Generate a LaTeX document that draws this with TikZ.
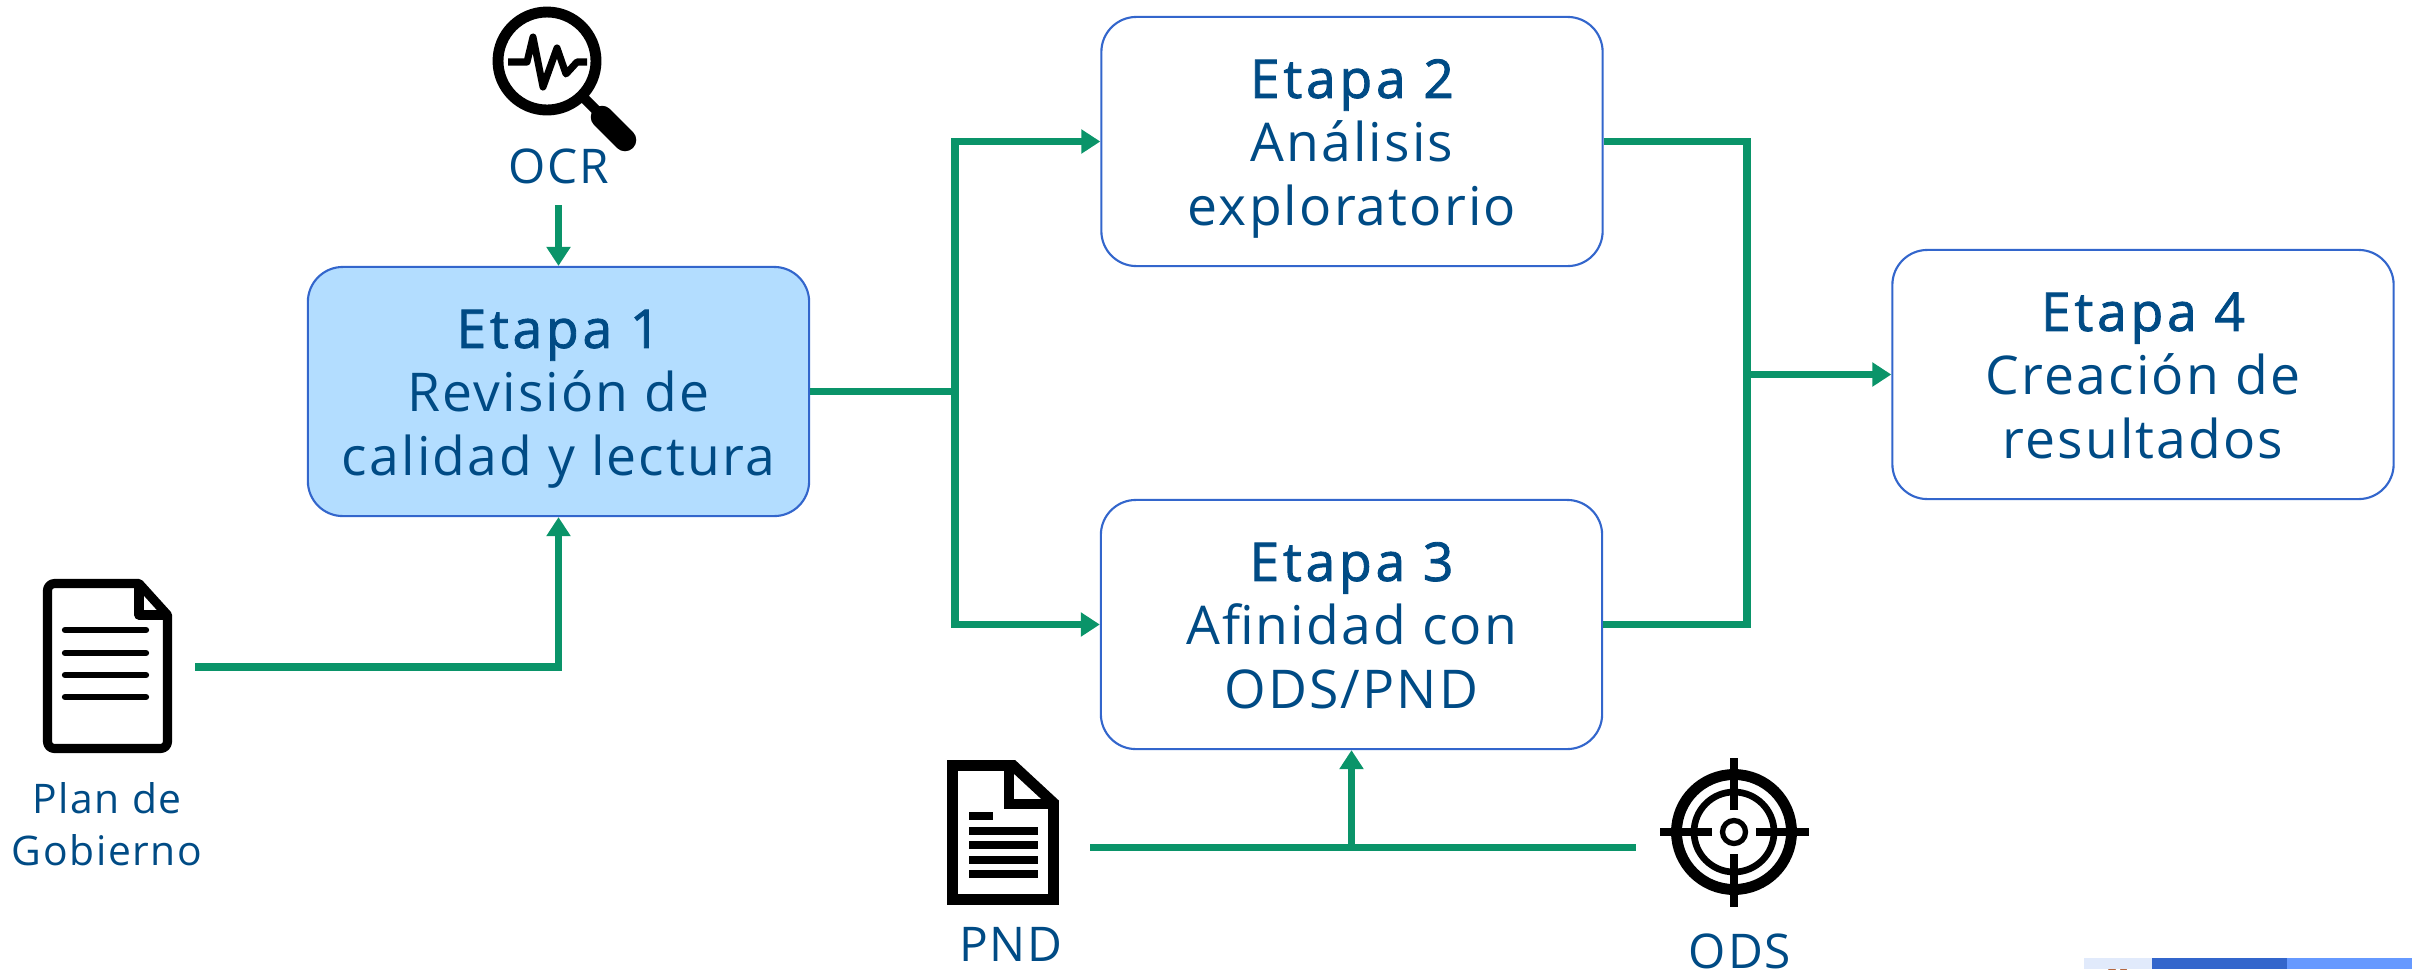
\documentclass[tikz,border=0pt]{standalone}
\usepackage{fontspec}
\usetikzlibrary{arrows.meta}
\setmainfont[LetterSpace=4]{Open Sans}
\newfontfamily\etapaFont[LetterSpace=7,FakeBold=1.6]{Open Sans}
\definecolor{textColor}{HTML}{004B85}
\definecolor{linkColor}{HTML}{0A9469}
\definecolor{borderColor}{HTML}{3366CC}
\definecolor{fillColor}{HTML}{B3DDFF}
\definecolor{barLight}{HTML}{E1EAFB}
\definecolor{barBlue}{HTML}{6699FF}
\definecolor{markColor}{HTML}{B5673F}
\newcommand{\etapaLines}[3]{\rule{0pt}{15.6pt}{\etapaFont #1}\\#2\\\rule[-4pt]{0pt}{4pt}#3}
\begin{document}
\begin{tikzpicture}[
            x=0.01cm,
            y=-0.01cm,
            etapa/.style={draw=borderColor, line width=0.6pt, rounded corners=0.35cm, minimum width=5.01cm, minimum height=2.49cm, align=center, text=textColor, inner sep=0pt, font=\fontsize{15.2}{18.2}\selectfont},
            source/.style={text=textColor, align=center, inner sep=0pt, font=\fontsize{13.6}{16}\selectfont},
            planSource/.style={source, font=\fontsize{11.6}{14.8}\selectfont},
            link/.style={draw=linkColor, line width=2.2pt},
            arrow/.style={link, -{Triangle[length=5.4pt, width=6.6pt]}},
            icon/.style={line width=#1, black},
            icon/.default=2.6pt
        ]
        \useasboundingbox (0,0) rectangle (2412,969);
        % boxes
        \node[etapa, fill=fillColor] (etapa1) at (558.5,391.5) {\etapaLines{Etapa 1}{Revisión de}{calidad y lectura}};
        \node[etapa] (etapa2) at (1352,141.5) {\etapaLines{Etapa 2}{Análisis}{exploratorio}};
        \node[etapa] (etapa3) at (1351.5,624.5) {\etapaLines{Etapa 3}{Afinidad con}{ODS/PND}};
        \node[etapa] (etapa4) at (2143,374.5) {\etapaLines{Etapa 4}{Creación de}{resultados}};
        % labels
        \node[source] (ocr) at (558.5,166) {OCR};
        \node[planSource] (plan) at (107,824) {Plan de\\Gobierno};
        \node[source] (pnd) at (1011,944) {PND};
        \node[source] (ods) at (1740,951) {ODS};
        % connectors
        \coordinate (ocrEnd) at (558.5,205);
        \coordinate (split) at (955,391.5);
        \coordinate (merge) at (1747,374.5);
        \coordinate (planEnd) at (195,667);
        \coordinate (pndEnd) at (1090,847.5);
        \coordinate (odsEnd) at (1636,847.5);
        \coordinate (join) at (1351.5,847.5);
        \draw[arrow] (ocrEnd) -- (etapa1.north);
        \draw[arrow] (planEnd) -| (etapa1.south);
        \draw[link] (etapa1.east) -- (split);
        \draw[arrow] (split) |- (etapa2.west);
        \draw[arrow] (split) |- (etapa3.west);
        \draw[link] (etapa2.east) -| (merge);
        \draw[link] (etapa3.east) -| (merge);
        \draw[arrow] (merge) -- (etapa4.west);
        \draw[link] (pndEnd) -- (odsEnd);
        \draw[arrow] (join) -- (etapa3.south);
        % magnifier
        \draw[icon=3.1pt] (547,61) circle (49);
        \draw[icon=2.9pt] (585,99) -- (603,117);
        \draw[icon=6.4pt, line cap=round] (602,117) -- (625,140);
        \draw[icon=2pt, line join=round] (508,62) -- (527,62) -- (533,37) -- (543,87) -- (557,48) -- (566,74) -- (577,62) -- (587,62);
        % plan icon
        \draw[icon, line join=round] (47.5,590.5) arc (180:270:7) -- (139,583.5) -- (167.5,615) -- (167.5,741.5) arc (0:90:7) -- (54.5,748.5) arc (90:180:7) -- cycle;
        \draw[icon, line join=round] (139,583.5) -- (139,615) -- (167.5,615);
        \foreach \lineY in {630,653,675,697}{
                \draw[icon=1.8pt, line cap=round] (65,\lineY) -- (146,\lineY);
            }
        % pnd icon
        \draw[icon=3.1pt, miter limit=10] (952.5,765.5) -- (1013,765.5) -- (1053.5,803) -- (1053.5,899.5) -- (952.5,899.5) -- cycle;
        \draw[icon=3.1pt] (1009,765.5) -- (1009,804) -- (1053.5,804);
        \foreach \lineY/\lineEnd in {816/993,831/1038,845/1038,860/1038,874/1038}{
                \draw[icon=2.2pt] (969,\lineY) -- (\lineEnd,\lineY);
            }
        % target icon
        \draw[icon=3.1pt] (1734,832) circle (57.5);
        \draw[icon=1.9pt] (1734,832) circle (40);
        \draw[icon=1.5pt] (1734,832) circle (11.5);
        \foreach \tickAngle in {0,90,180,270}{
                \draw[icon=2.2pt] (1734,832) ++(\tickAngle:22) -- ++(\tickAngle:52.5);
            }
        % page bar
        \fill[barLight] (2084,958) rectangle (2152,969);
        \fill[borderColor] (2152,958) rectangle (2287,969);
        \fill[barBlue] (2287,958) rectangle (2412,969);
        \fill[markColor] (2108,969) arc (180:0:4 and 2.5) -- cycle;
        \fill[markColor] (2120,969) arc (180:0:3.5 and 2.5) -- cycle;
    \end{tikzpicture}
\end{document}
